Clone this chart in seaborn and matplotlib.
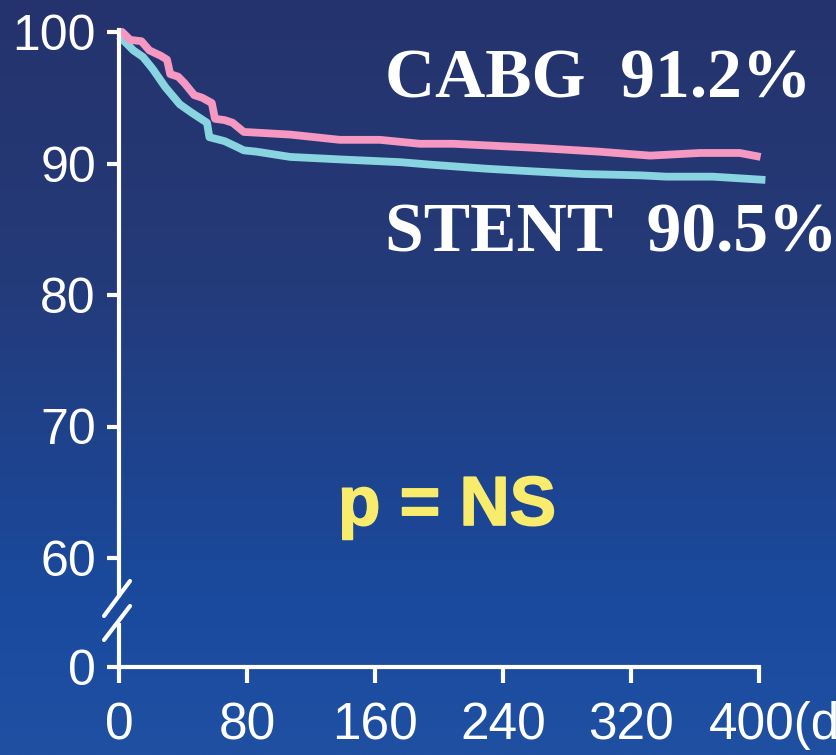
import numpy as np
import pandas as pd
import matplotlib
matplotlib.use("Agg")
import matplotlib.pyplot as plt
from matplotlib.colors import LinearSegmentedColormap
from matplotlib.lines import Line2D
import matplotlib.transforms as mtransforms
import matplotlib.patheffects as pe
import seaborn as sns

# ---------------- data ----------------
days_cabg = [0, 2, 7, 14, 19, 26, 30, 32, 37, 41, 47, 52, 58, 60, 66, 71, 78,
             107, 138, 163, 188, 209, 259, 300, 332, 363, 388, 401]
surv_cabg = [100.0, 100.0, 99.4, 99.3, 98.6, 98.2, 97.9, 96.8, 96.6, 96.1, 95.2,
             95.0, 94.6, 93.4, 93.3, 93.1, 92.4, 92.2, 91.8, 91.8, 91.5, 91.5,
             91.2, 90.9, 90.6, 90.8, 90.8, 90.5]
days_stent = [0, 9, 15, 21, 29, 38, 45, 55, 56.5, 66, 73, 78, 86, 107, 140, 176,
              196, 230, 259, 290, 326, 342, 371, 404]
surv_stent = [99.7, 98.6, 98.1, 97.2, 95.8, 94.5, 93.9, 93.1, 92.0, 91.7, 91.3,
              91.0, 90.9, 90.5, 90.3, 90.1, 89.9, 89.6, 89.4, 89.2, 89.1, 89.0,
              89.0, 88.75]
x_ticks = [0, 80, 160, 240, 320, 400]
x_tick_labels = ["0", "80", "160", "240", "320", "400(days)"]
y_ticks_top = [60, 70, 80, 90, 100]
y_ticks_bottom = [0]
label_cabg = "CABG  91.2%"
label_stent = "STENT  90.5%"
label_p = "p = NS"

# ---------------- style ----------------
sns.set_style("ticks")
plt.rcParams["font.family"] = ["Liberation Sans", "DejaVu Sans"]

W, H = 837, 755
fig = plt.figure(figsize=(W / 100, H / 100), dpi=100)

# gradient background
bg = fig.add_axes([0, 0, 1, 1], zorder=-10)
cmap = LinearSegmentedColormap.from_list(
    "bg", [(0.0, "#25336d"), (0.35, "#243a78"), (0.8, "#1a4a9e"), (1.0, "#1f50a2")])
grad = np.linspace(0, 1, 256).reshape(-1, 1)
bg.imshow(grad, aspect="auto", cmap=cmap, extent=[0, 1, 0, 1], origin="upper")
bg.set_axis_off()

def px(x, y):
    return x / W, 1 - y / H

pink = "#f598c2"
cyan = "#88d4e0"
white = "white"

# axes placement
left, right = 119, 759
ax_top = fig.add_axes([left / W, 1 - 595 / H, (right - left) / W, (595 - 30) / H])
ax_bot = fig.add_axes([left / W, 1 - 667 / H, (right - left) / W, (667 - 625) / H])
for a in (ax_top, ax_bot):
    a.set_facecolor("none")
    a.set_xlim(0, 400)

scale = 13.15
ax_top.set_ylim(60 - 37 / scale, 100 + 2 / scale)
ax_bot.set_ylim(0, 42 / scale)

df_c = pd.DataFrame({"day": days_cabg, "surv": surv_cabg})
df_s = pd.DataFrame({"day": days_stent, "surv": surv_stent})
sns.lineplot(data=df_s, x="day", y="surv", ax=ax_top, color=cyan, lw=5.6,
             estimator=None, sort=False, clip_on=False, solid_capstyle="butt")
sns.lineplot(data=df_c, x="day", y="surv", ax=ax_top, color=pink, lw=5.6,
             estimator=None, sort=False, clip_on=False, solid_capstyle="butt")

# spines & ticks
for a in (ax_top, ax_bot):
    a.spines["right"].set_visible(False)
    a.spines["top"].set_visible(False)
    a.spines["left"].set_color(white)
    a.spines["left"].set_linewidth(3)
    a.set_xlabel("")
    a.set_ylabel("")
ax_top.spines["bottom"].set_visible(False)
ax_top.set_xticks([])
ax_top.set_yticks(y_ticks_top)
ax_top.set_yticklabels([str(v) for v in y_ticks_top])
ax_bot.spines["bottom"].set_color(white)
ax_bot.spines["bottom"].set_linewidth(3)
ax_bot.set_yticks(y_ticks_bottom)
ax_bot.set_yticklabels([str(v) for v in y_ticks_bottom])
ax_bot.set_xticks(x_ticks)
ax_bot.set_xticklabels(x_tick_labels)

for a in (ax_top, ax_bot):
    a.tick_params(axis="y", colors=white, length=8.6, width=3, direction="out",
                  labelsize=36, pad=8, labelcolor=white)
ax_bot.tick_params(axis="x", colors=white, length=11.5, width=3, direction="out",
                   labelsize=37, pad=13, labelcolor=white)

# last x label starts left of its tick
lbl = ax_bot.get_xticklabels()[-1]
lbl.set_horizontalalignment("left")
off = mtransforms.ScaledTranslation(-50 / 100, 0, fig.dpi_scale_trans)
lbl.set_transform(lbl.get_transform() + off)

# axis break marks
for (x0, y0, x1, y1) in [(104, 616, 130, 581), (104, 640, 130, 606)]:
    p0 = px(x0, y0)
    p1 = px(x1, y1)
    fig.add_artist(Line2D([p0[0], p1[0]], [p0[1], p1[1]], color=white, lw=3,
                          transform=fig.transFigure))

# annotations
fig.text(*px(385, 98), label_cabg, color=white, fontsize=50, fontweight="bold",
         family=["Liberation Serif", "DejaVu Serif"], ha="left", va="baseline")
fig.text(*px(385, 252), label_stent, color=white, fontsize=50, fontweight="bold",
         family=["Liberation Serif", "DejaVu Serif"], ha="left", va="baseline")
fig.text(*px(338, 525), label_p, color="#f9ec6d", fontsize=50, fontweight="bold",
         family=["Liberation Sans", "DejaVu Sans"], ha="left", va="baseline",
         path_effects=[pe.withStroke(linewidth=1.2, foreground="#f9ec6d")])

fig.savefig("out.png", dpi=100)
